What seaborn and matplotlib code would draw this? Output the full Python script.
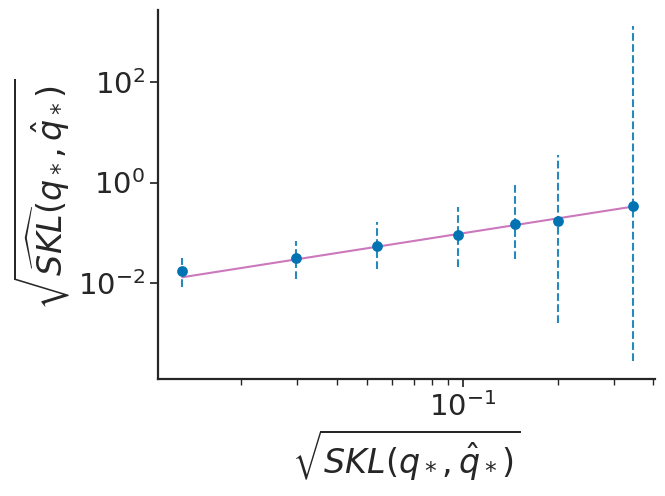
import numpy as np
import pandas as pd
import seaborn as sns
import matplotlib.pyplot as plt
from matplotlib.ticker import LogLocator, NullLocator

# values
skl_true = [0.0130, 0.0298, 0.0536, 0.0968, 0.146, 0.200, 0.345]
skl_est = [0.0169, 0.0312, 0.0534, 0.0887, 0.149, 0.171, 0.342]
est_low = [0.0081, 0.0120, 0.0185, 0.0203, 0.0302, 0.00155, 0.000269]
est_high = [0.0312, 0.0692, 0.164, 0.322, 0.912, 3.63, 1350.0]

fit_x = [0.0130, 0.345]
fit_y = [0.0128, 0.331]

df = pd.DataFrame({"x": skl_true, "y": skl_est, "lo": est_low, "hi": est_high})

sns.set_theme(style="ticks", palette="colorblind")
plt.rcParams["font.family"] = ["DejaVu Sans"]

fig = plt.figure(figsize=(6.65, 4.96), dpi=100)
ax = fig.add_axes([0.2376, 0.2365, 0.7474, 0.7435])

blue = "#0173b2"
pink = "#cc78bc"

# dashed error bars
yerr = np.array([df["y"] - df["lo"], df["hi"] - df["y"]])
eb = ax.errorbar(df["x"], df["y"], yerr=yerr, fmt="none", ecolor=blue,
                 elinewidth=1.5, alpha=0.85, zorder=2)
eb[2][0].set_linestyle("--")

sns.lineplot(x=fit_x, y=fit_y, color=pink, linewidth=1.5, ax=ax, zorder=3)
sns.scatterplot(data=df, x="x", y="y", color=blue, s=60, edgecolor=blue,
                linewidth=0, ax=ax, zorder=4)

ax.set_xscale("log")
ax.set_yscale("log")
ax.set_xlim(0.0109, 0.405)
ax.set_ylim(10 ** -3.92, 10 ** 3.45)

ax.yaxis.set_major_locator(LogLocator(base=10, numticks=10))
ax.set_yticks([1e-2, 1e0, 1e2])
ax.yaxis.set_minor_locator(NullLocator())

ax.tick_params(axis="both", which="major", labelsize=21, length=6, width=1.25)
ax.tick_params(axis="both", which="minor", length=4, width=1.0)

ax.set_xlabel(r"$\sqrt{SKL(q_*,\hat{q}_*)}$", fontsize=24)
ax.set_ylabel(r"$\sqrt{\widehat{SKL}(q_*,\hat{q}_*)}$", fontsize=24)

for side in ["left", "bottom"]:
    ax.spines[side].set_linewidth(1.6)
sns.despine(ax=ax)

fig.savefig("out.png", dpi=100)
